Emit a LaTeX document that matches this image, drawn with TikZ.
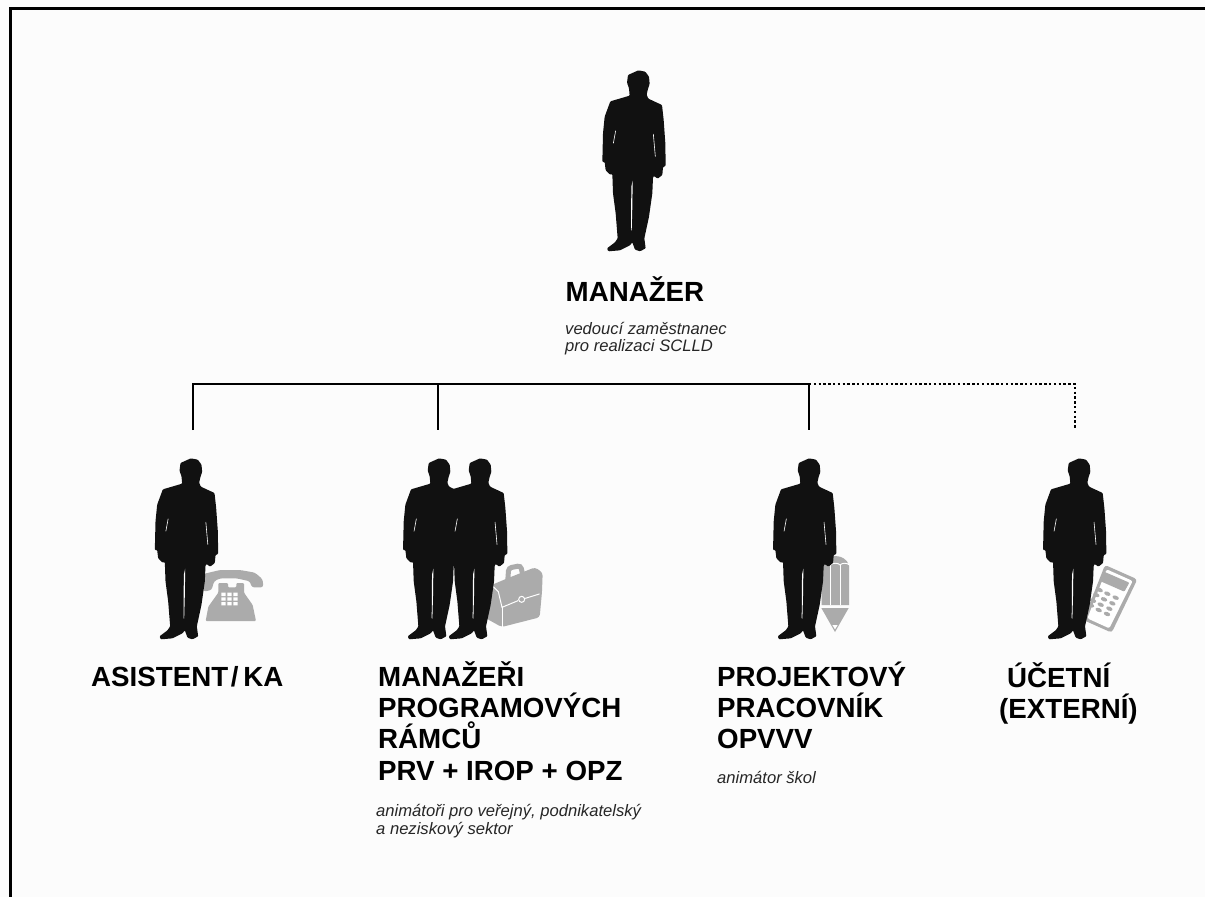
\documentclass[tikz,border=0pt]{standalone}
\usepackage{fontspec}
\setmainfont{Liberation Sans}
\definecolor{ink}{HTML}{111111}
\definecolor{icon}{HTML}{ABABAB}
\tikzset{
  x=1pt,y=-1pt,
  head/.style={anchor=base west,inner sep=0pt,font=\fontsize{27.7}{31}\selectfont\bfseries,align=left,text=black},
  sub/.style={anchor=base west,inner sep=0pt,font=\fontsize{16.6}{17.8}\selectfont\itshape,align=left,text=black!85},
  frameline/.style={line width=3pt,black},
  bus/.style={line width=2.4pt,black,line cap=butt},
  busdot/.style={line width=2.4pt,black,dash pattern=on 2.4pt off 2.4pt},
  iconw/.style={white,line width=1pt,line cap=round,line join=round},
  zoomed/.style={scale=1/3},
}
\newcommand{\person}[2]{%
\begin{scope}[shift={(#1,#2)},zoomed]
 \fill[ink,rounded corners=.9pt] (175,31)--(196,35)--(207,50)--(209,72)--(204,86)--(200,104)--(205,116)--(246,135)--(251,180)--(256,250)--(257,318)--(249,321)--(247,345)--(233,356)--(222,348)--(219,352)--(217,400)--(207,470)--(193,535)--(197,565)--(180,574)--(165,569)--(157,547)--(150,556)--(120,571)--(85,574)--(81,565)--(105,547)--(113,535)--(107,460)--(99,400)--(97,342)--(90,344)--(77,331)--(74,306)--(67,306)--(69,220)--(74,170)--(91,124)--(149,107)--(147,85)--(141,68)--(144,45)--cycle;
 \fill[white] (158,362)--(154,380)--(153,510)--(155,512)--(157,440)--cycle;
 \draw[white,line width=.6pt] (107,212)--(100,250);
 \draw[white,line width=.6pt] (220,222)--(226,290);
\end{scope}}
\begin{document}
\begin{tikzpicture}
\useasboundingbox (0,0) rectangle (1205,897);
\fill[white!99!black] (0,0) rectangle (1205,897);
\draw[frameline] (10.5,897)--(10.5,8.5)--(1205,8.5);

% coordinates for the people
\coordinate (asst) at (193,430);
\coordinate (prog) at (438,430);
\coordinate (proj) at (809,430);
\coordinate (acct) at (1075,429);
\coordinate (busA) at (193,384);
\coordinate (busB) at (438,384);
\coordinate (busC) at (809,384);
\coordinate (busD) at (1075,384);

% connectors
\draw[bus] (asst)--(busA)--(busC)--(proj);
\draw[bus] (busB)--(prog);
\draw[busdot] (busC)--(busD)--(acct);

% telephone
\begin{scope}[shift={(140,450)},zoomed]
 \fill[icon,rounded corners=1pt] (197,513)--(205,470)--(235,428)--(235,399)--(264,399)--(264,412)--(289,412)--(289,399)--(312,399)--(312,428)--(338,465)--(348,513)--cycle;
 \fill[icon,rounded corners=2.5pt] (190,372)--(240,360)--(300,360)--(345,368)--(368,388)--(370,412)--(335,412)--(330,394)--(290,385)--(240,385)--(222,394)--(215,420)--(190,425)--cycle;
 \fill[white] \foreach \a in {244,262,280}{\foreach \b in {428,442,456}{(\a,\b) rectangle ++(13,10)}};
\end{scope}
% briefcase
\begin{scope}[shift={(390,450)},zoomed]
 \fill[icon,rounded corners=3pt] (305,405)--(345,388)--(435,352)--(458,368)--(456,425)--(449,502)--(335,531)--(288,505)--(298,450)--cycle;
 \draw[icon,line width=5pt,rounded corners=3pt] (353,396)--(356,354)--(392,347)--(399,378);
 \draw[iconw] (308,408)--(325,425)--(336,472)--(384,452);
 \draw[iconw] (406,445)--(448,432);
 \draw[iconw] (336,472)--(336,530);
 \draw[white,line width=1pt] (395,448) circle (9);
\end{scope}
% pencil
\begin{scope}[shift={(760,450)},zoomed]
 \fill[icon] (185,347) .. controls (190,328) and (210,318) .. (226,318) .. controls (245,318) and (262,328) .. (267,347) -- (267,465) -- (185,465) -- cycle;
 \draw[white,line width=.9pt] (212,345)--(212,466) (240,345)--(240,466);
 \draw[white,line width=.9pt] (212,345) .. controls (216,338) and (236,338) .. (240,345);
 \draw[white,line width=.9pt] (240,345) .. controls (246,338) and (262,338) .. (268,345);
 \fill[icon] (184,474)--(266,474)--(225,546)--cycle;
 \fill[white] (217,525)--(233,525)--(225,538)--cycle;
\end{scope}
% calculator
\begin{scope}[shift={(1030,450)},zoomed]
 \fill[icon,rounded corners=3pt] (225,345)--(322,388)--(245,548)--(160,510)--cycle;
 \fill[white,rounded corners=2pt] (230,358)--(308,393)--(238,535)--(172,505)--cycle;
 \fill[icon,rounded corners=1pt] (222,365)--(298,398)--(283,425)--(210,393)--cycle;
 \foreach \a/\b in {209/420,232/431,257/443,199/435,222/448,247/460,189/452,212/464,238/476,183/466,206/480,231/492}
   \fill[icon,rotate around={-22:(\a,\b)}] (\a,\b) ellipse (10 and 6);
\end{scope}

% people
\person{580}{60}
\person{132.5}{448}
\person{380.7}{448}
\person{421.7}{448}
\person{750.7}{448}
\person{1020.7}{448}

% labels
\node[head] (tMgr) at (565.5,301) {MANAŽER};
\node[sub] (sMgr1) at (565,334) {vedoucí zaměstnanec};
\node[sub] (sMgr2) at (565,351.7) {pro realizaci SCLLD};

\node[head] (tAsst) at (91,686) {ASISTENT\kern.1em/\kern.17em KA};

\node[head] (tProg1) at (378,686) {MANAŽEŘI};
\node[head] (tProg2) at (378,717.5) {PROGRAMOVÝCH};
\node[head] (tProg3) at (378,748) {RÁMCŮ};
\node[head] (tProg4) at (378,780) {PRV + IROP + OPZ};
\node[sub] (sProg1) at (376,816) {animátoři pro veřejný, podnikatelský};
\node[sub] (sProg2) at (376,834) {a neziskový sektor};

\node[head] (tProj1) at (717,686) {PROJEKTOVÝ};
\node[head] (tProj2) at (717,717) {PRACOVNÍK};
\node[head] (tProj3) at (717,748) {OPVVV};
\node[sub] (sProj) at (717,783) {animátor škol};

\node[head] (tAcct1) at (1007,687) {ÚČETNÍ};
\node[head] (tAcct2) at (999,718) {(EXTERNÍ)};
\end{tikzpicture}
\end{document}
